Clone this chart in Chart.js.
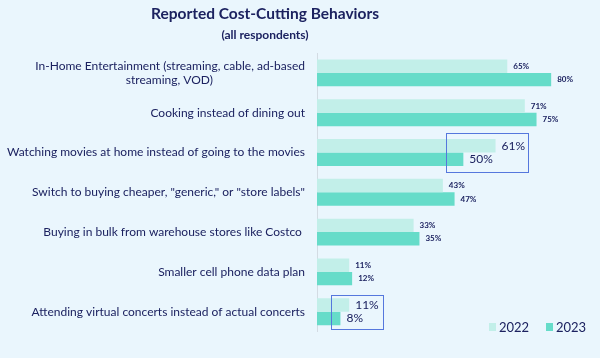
<!DOCTYPE html>
<html><head><meta charset="utf-8">
<script src="https://cdn.jsdelivr.net/npm/chart.js@4/dist/chart.umd.min.js"></script>
<style>html,body{margin:0;padding:0;background:#eaf6fd;}#wrap{width:600px;height:358px;position:relative;}</style>
</head><body><div id="wrap"><canvas id="c" width="600" height="358"></canvas></div>
<script>
const PAD = "\u00A0".repeat(30);
const categories = [
  ["In-Home Entertainment (streaming, cable, ad-based", "streaming, VOD)" + PAD],
  "Cooking instead of dining out",
  "Watching movies at home instead of going to the movies",
  "Switch to buying cheaper, \"generic,\" or \"store labels\"",
  "Buying in bulk from warehouse stores like Costco\u00A0",
  "Smaller cell phone data plan",
  "Attending virtual concerts instead of actual concerts"
];
const values2022 = [65, 71, 61, 43, 33, 11, 11];
const values2023 = [80, 75, 50, 47, 35, 12, 8];
const seriesNames = ["2022", "2023"];
const highlighted = [2, 6];

const NAVY = "#1c2260";
const FONT = "Lato, 'Noto Sans', sans-serif";

const overlay = {
  id: "overlay",
  afterDatasetsDraw(chart) {
    const ctx = chart.ctx;
    const xs = chart.scales.x, ys = chart.scales.y;
    ctx.save();
    ctx.fillStyle = NAVY;
    ctx.textAlign = "center";
    ctx.textBaseline = "middle";
    ctx.font = "bold 15.5px " + FONT;
    ctx.fillText("Reported Cost-Cutting Behaviors", 265, 14);
    ctx.font = "bold 12px " + FONT;
    ctx.fillText("(all respondents)", 265, 35);
    ctx.textAlign = "left";
    chart.data.datasets.forEach((ds, di) => {
      const meta = chart.getDatasetMeta(di);
      meta.data.forEach((el, i) => {
        const big = highlighted.includes(i);
        ctx.font = (big ? "12px " : "bold 8px ") + FONT;
        ctx.fillText(ds.data[i] + "%", el.x + 6, el.y);
      });
    });
    ctx.strokeStyle = "#5577dd";
    ctx.lineWidth = 1;
    const boxes = [[2, 44, 72, 0.48], [6, 4.8, 22.5, 0.43]];
    boxes.forEach(([idx, x0, x1, h]) => {
      const cy = ys.getPixelForValue(idx);
      const step = ys.getPixelForValue(1) - ys.getPixelForValue(0);
      const l = Math.round(xs.getPixelForValue(x0)) + 0.5;
      const r = Math.round(xs.getPixelForValue(x1)) + 0.5;
      const t = Math.round(cy - step * h) + 0.5;
      const b = Math.round(cy + step * h) + 0.5;
      ctx.strokeRect(l, t, r - l, b - t);
    });
    const lx = [489, 546];
    chart.data.datasets.forEach((ds, di) => {
      ctx.fillStyle = ds.backgroundColor;
      ctx.fillRect(lx[di], 323, 7, 8);
      ctx.fillStyle = NAVY;
      ctx.font = "13px " + FONT;
      ctx.textBaseline = "middle";
      ctx.fillText(ds.label, lx[di] + 10, 327.5);
    });
    ctx.restore();
  }
};

new Chart(document.getElementById("c"), {
  type: "bar",
  data: {
    labels: categories,
    datasets: [
      { label: seriesNames[0], data: values2022, backgroundColor: "#c2efe9" },
      { label: seriesNames[1], data: values2023, backgroundColor: "#66dcc9" }
    ]
  },
  options: {
    indexAxis: "y",
    responsive: false,
    animation: false,
    devicePixelRatio: 1,
    categoryPercentage: 0.675,
    barPercentage: 1.0,
    layout: { padding: { top: 53, bottom: 25, left: 0, right: 2 } },
    plugins: { legend: { display: false }, title: { display: false }, tooltip: { enabled: false } },
    scales: {
      x: { display: false, min: 0, max: 96 },
      y: {
        afterFit(scale) { scale.width = 317; },
        grid: { display: false, drawTicks: false },
        border: { display: true, color: "#d3dbe3", width: 1 },
        ticks: { color: NAVY, font: { family: FONT, size: 12 }, padding: 12, autoSkip: false }
      }
    }
  },
  plugins: [overlay]
});
</script></body></html>
